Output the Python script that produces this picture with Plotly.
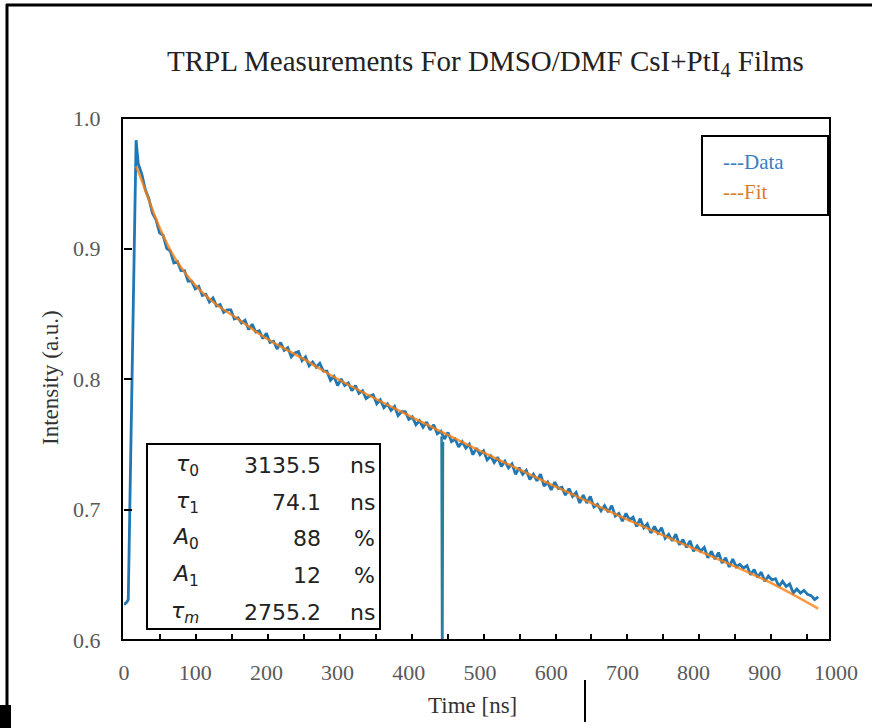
import plotly.graph_objects as go

# ---------------- data ----------------
head_t = [0, 4, 6, 17]
head_v = [0.627, 0.629, 0.631, 0.983]

body_t = list(range(20, 980, 5))
body_v = [
    0.965, 0.957, 0.945, 0.938, 0.927, 0.922, 0.912, 0.910, 0.900, 0.898,
    0.889, 0.890, 0.883, 0.883, 0.875, 0.875, 0.869, 0.871, 0.864, 0.865,
    0.859, 0.862, 0.856, 0.857, 0.851, 0.853, 0.853, 0.846, 0.847, 0.843,
    0.845, 0.838, 0.842, 0.836, 0.837, 0.831, 0.835, 0.828, 0.829, 0.823,
    0.828, 0.822, 0.824, 0.817, 0.820, 0.821, 0.814, 0.817, 0.810, 0.813,
    0.809, 0.812, 0.806, 0.806, 0.799, 0.802, 0.795, 0.800, 0.795, 0.797,
    0.791, 0.795, 0.789, 0.791, 0.785, 0.787, 0.788, 0.781, 0.784, 0.778,
    0.781, 0.776, 0.779, 0.772, 0.775, 0.775, 0.769, 0.771, 0.765, 0.768,
    0.763, 0.767, 0.761, 0.765, 0.758, 0.760, 0.754, 0.759, 0.752, 0.754,
    0.748, 0.752, 0.747, 0.750, 0.742, 0.747, 0.742, 0.745, 0.738, 0.741,
    0.736, 0.740, 0.733, 0.737, 0.732, 0.735, 0.727, 0.732, 0.727, 0.730,
    0.723, 0.727, 0.722, 0.727, 0.718, 0.721, 0.715, 0.721, 0.716, 0.717,
    0.711, 0.716, 0.710, 0.713, 0.705, 0.711, 0.705, 0.710, 0.702, 0.704,
    0.699, 0.703, 0.698, 0.703, 0.695, 0.697, 0.691, 0.697, 0.692, 0.694,
    0.687, 0.693, 0.686, 0.689, 0.682, 0.687, 0.682, 0.686, 0.678, 0.681,
    0.676, 0.681, 0.673, 0.677, 0.671, 0.676, 0.668, 0.672, 0.668, 0.671,
    0.663, 0.668, 0.662, 0.667, 0.659, 0.663, 0.656, 0.662, 0.656, 0.658,
    0.655, 0.657, 0.650, 0.654, 0.648, 0.652, 0.645, 0.649, 0.646, 0.647,
    0.641, 0.645, 0.641, 0.643, 0.636, 0.639, 0.636, 0.638, 0.635, 0.634,
    0.631, 0.633,
]

spike_t = [446, 447, 448]
spike_v = [0.756, 0.55, 0.752]

fit_t = [17, 25, 35, 50, 70, 100, 130, 160, 200, 250, 300, 400, 500, 600, 700, 800, 900, 975]
fit_v = [0.963, 0.952, 0.937, 0.916, 0.894, 0.872, 0.857, 0.846, 0.831, 0.816,
         0.800, 0.772, 0.745, 0.719, 0.694, 0.670, 0.646, 0.624]

x_ticks = [0, 100, 200, 300, 400, 500, 600, 700, 800, 900, 1000]
y_ticks = [0.6, 0.7, 0.8, 0.9, 1.0]
inner_x_ticks = [50, 100, 150, 200, 250, 300, 350, 400, 450, 500, 550, 600, 650,
                 700, 750, 800, 850, 900, 950]
inner_y_ticks = [0.7, 0.8, 0.9]

params = [("<i>τ</i><sub>0</sub>", "3135.5", "ns"),
          ("<i>τ</i><sub>1</sub>", "74.1", "ns"),
          ("<i>A</i><sub>0</sub>", "88", "%"),
          ("<i>A</i><sub>1</sub>", "12", "%"),
          ("<i>τ</i><sub><i>m</i></sub>", "2755.2", "ns")]

# ---------------- layout helpers ----------------
W, H = 872, 728
L, R, T, B = 124, 836, 118, 640


def px(x):
    return (x - L) / (R - L)


def py(y):
    return (B - y) / (B - T)


BLUE = "#1f77b4"
ORANGE = "#ff7f0e"
SERIF = "Liberation Serif"
SANS = "DejaVu Sans"

fig = go.Figure()
fig.add_trace(go.Scatter(x=head_t + body_t, y=head_v + body_v, mode="lines",
                         line=dict(color=BLUE, width=2.8), showlegend=False))
fig.add_trace(go.Scatter(x=spike_t, y=spike_v, mode="lines",
                         line=dict(color="#2a7d9c", width=2.5), showlegend=False))
fig.add_trace(go.Scatter(x=fit_t, y=fit_v, mode="lines", line_shape="spline",
                         line=dict(color=ORANGE, width=2.5), opacity=0.8,
                         showlegend=False))
# invisible trace for the inner tick axes
fig.add_trace(go.Scatter(x=[None], y=[None], xaxis="x2", yaxis="y2",
                         showlegend=False, hoverinfo="skip"))

shapes = []
shapes.append(dict(type="rect", xref="paper", yref="paper", x0=px(122), x1=px(830),
                   y0=py(640), y1=py(118), line=dict(color="black", width=2)))
shapes.append(dict(type="rect", xref="paper", yref="paper", x0=px(702), x1=px(828),
                   y0=py(215), y1=py(136), line=dict(color="black", width=2),
                   fillcolor="white", layer="above"))
shapes.append(dict(type="rect", xref="paper", yref="paper", x0=px(147), x1=px(380),
                   y0=py(629), y1=py(444), line=dict(color="black", width=2),
                   fillcolor="white", layer="above"))
shapes.append(dict(type="line", xref="paper", yref="paper", x0=px(6), x1=px(872),
                   y0=py(5), y1=py(5), line=dict(color="black", width=3)))
shapes.append(dict(type="line", xref="paper", yref="paper", x0=px(7), x1=px(7),
                   y0=py(4), y1=py(706), line=dict(color="black", width=3)))
shapes.append(dict(type="rect", xref="paper", yref="paper", x0=px(0), x1=px(11),
                   y0=py(728), y1=py(705), line=dict(width=0), fillcolor="black"))
shapes.append(dict(type="line", xref="paper", yref="paper", x0=px(585), x1=px(585),
                   y0=py(680), y1=py(722), line=dict(color="black", width=2)))

ann = []
ann.append(dict(text="TRPL Measurements For DMSO/DMF CsI+PtI<sub>4</sub> Films",
                xref="paper", yref="paper", x=px(485), y=py(63), showarrow=False,
                xanchor="center", yanchor="middle",
                font=dict(family=SERIF, size=29, color="#222222")))
ann.append(dict(text="Intensity (a.u.)", xref="paper", yref="paper", x=px(50), y=py(378),
                showarrow=False, textangle=-90, xanchor="center", yanchor="middle",
                font=dict(family=SERIF, size=23, color="#333333")))
ann.append(dict(text="Time [ns]", xref="paper", yref="paper", x=px(472), y=py(705),
                showarrow=False, xanchor="center", yanchor="middle",
                font=dict(family=SERIF, size=23, color="#333333")))
ann.append(dict(text="---Data", xref="paper", yref="paper", x=px(721), y=py(162),
                showarrow=False, xanchor="left", yanchor="middle",
                font=dict(family=SERIF, size=21, color="#3a7dc2")))
ann.append(dict(text="---Fit", xref="paper", yref="paper", x=px(721), y=py(192),
                showarrow=False, xanchor="left", yanchor="middle",
                font=dict(family=SERIF, size=21, color="#d97c2f")))

row_y = [465, 502, 538, 575, 612]
for (sym, val, unit), yy in zip(params, row_y):
    ann.append(dict(text=sym, xref="paper", yref="paper", x=px(201), y=py(yy),
                    showarrow=False, xanchor="right", yanchor="middle",
                    font=dict(family=SANS, size=22, color="#222222")))
    ann.append(dict(text=val, xref="paper", yref="paper", x=px(323), y=py(yy),
                    showarrow=False, xanchor="right", yanchor="middle",
                    font=dict(family=SANS, size=22, color="#222222")))
    ann.append(dict(text=unit, xref="paper", yref="paper", x=px(377), y=py(yy),
                    showarrow=False, xanchor="right", yanchor="middle",
                    font=dict(family=SANS, size=22, color="#222222")))

fig.update_layout(
    width=W, height=H,
    margin=dict(l=L, r=W - R, t=T, b=H - B, pad=0),
    paper_bgcolor="white", plot_bgcolor="white",
    shapes=shapes, annotations=ann, showlegend=False,
    xaxis=dict(range=[0, 1000], tickvals=x_ticks, ticks="outside", ticklen=13,
               tickcolor="rgba(0,0,0,0)", showgrid=False, zeroline=False, showline=False,
               tickfont=dict(family=SERIF, size=22, color="#595959")),
    yaxis=dict(range=[0.6, 1.0], tickvals=y_ticks, tickformat=".1f", ticks="outside",
               ticklen=18, tickcolor="rgba(0,0,0,0)", showgrid=False, zeroline=False,
               showline=False, tickfont=dict(family=SERIF, size=22, color="#595959")),
    xaxis2=dict(overlaying="x", anchor="y2", side="bottom", range=[0, 990],
                tickvals=inner_x_ticks, ticks="inside", ticklen=6, tickwidth=1.5,
                tickcolor="black", showticklabels=False, showgrid=False,
                zeroline=False, showline=False),
    yaxis2=dict(overlaying="y", anchor="x2", side="left", range=[0.6, 1.0],
                tickvals=inner_y_ticks, ticks="inside", ticklen=8, tickwidth=1.5,
                tickcolor="black", showticklabels=False, showgrid=False,
                zeroline=False, showline=False),
)

fig.write_html("out.html")
